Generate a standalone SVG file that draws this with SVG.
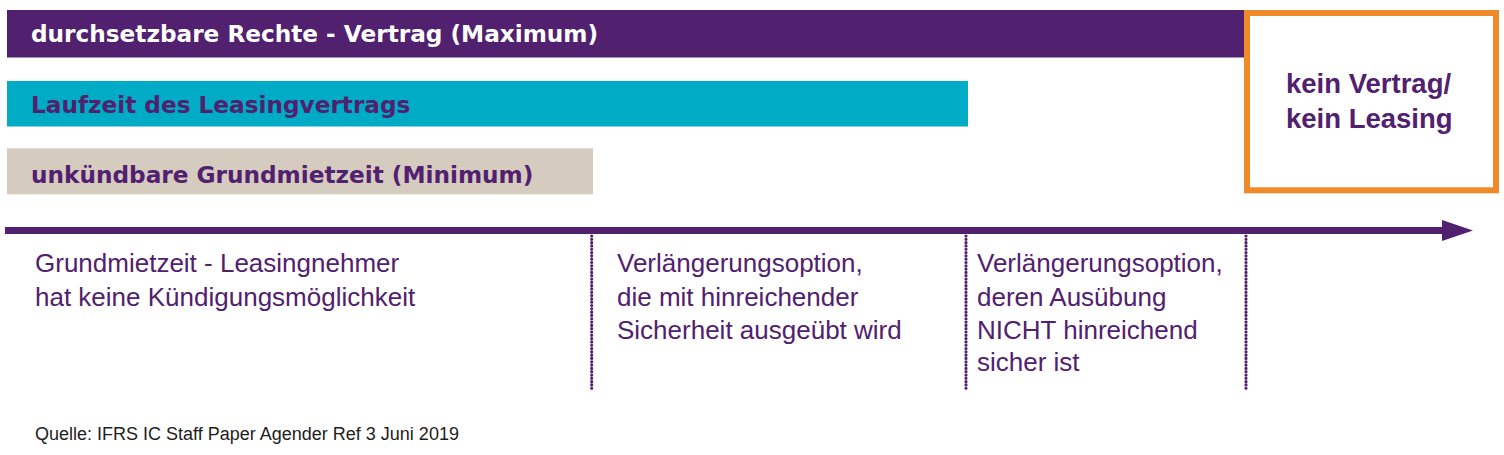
<svg xmlns="http://www.w3.org/2000/svg" width="1504" height="455" viewBox="0 0 1504 455">
  <style>
    .bartxt { font-family: "DejaVu Sans", "Liberation Sans", sans-serif; font-weight: bold; font-size: 23.2px; }
    .body { font-family: "Liberation Sans", Arial, sans-serif; font-size: 26px; fill: #51206f; }
    .box { font-family: "Liberation Sans", Arial, sans-serif; font-weight: bold; font-size: 27.5px; fill: #51206f; }
    .note { font-family: "Liberation Sans", Arial, sans-serif; font-size: 18px; fill: #1d1d1b; }
    .dots { stroke: #51206f; stroke-width: 3.2; stroke-linecap: round; stroke-dasharray: 0.01 3.3; fill: none; }
  </style>
  <rect width="1504" height="455" fill="#ffffff"/>

  <g id="bar-maximum">
    <rect x="7" y="10" width="1237" height="47.5" fill="#51206f"/>
    <text x="31" y="42" class="bartxt" fill="#ffffff">durchsetzbare Rechte - Vertrag (Maximum)</text>
  </g>
  <g id="bar-laufzeit">
    <rect x="7" y="81" width="961" height="45.5" fill="#00abc6"/>
    <text x="31" y="113" class="bartxt" fill="#51206f">Laufzeit des Leasingvertrags</text>
  </g>
  <g id="bar-minimum">
    <rect x="7" y="148.3" width="586" height="46" fill="#d6cbbf"/>
    <text x="31" y="183" class="bartxt" fill="#51206f">unkündbare Grundmietzeit (Minimum)</text>
  </g>
  <g id="box-kein-vertrag">
    <rect x="1247" y="13" width="249" height="177.3" fill="#ffffff" stroke="#ef8a2a" stroke-width="6"/>
    <text x="1286" y="93" class="box">kein Vertrag/</text>
    <text x="1286" y="127.5" class="box">kein Leasing</text>
  </g>

  <g id="connectors">
    <line x1="5" y1="230.5" x2="1446" y2="230.5" stroke="#51206f" stroke-width="7"/>
    <polygon points="1442,220 1473,230.5 1442,241" fill="#51206f"/>
    <line x1="591.7" y1="236" x2="591.7" y2="390" class="dots"/>
    <line x1="966" y1="236" x2="966" y2="390" class="dots"/>
    <line x1="1246" y1="236" x2="1246" y2="390" class="dots"/>
  </g>

  <g id="col-grundmietzeit">
    <text x="35" y="272" class="body">Grundmietzeit - Leasingnehmer</text>
    <text x="35" y="305.5" class="body">hat keine Kündigungsmöglichkeit</text>
  </g>
  <g id="col-option-sicher">
    <text x="617" y="272" class="body">Verlängerungsoption,</text>
    <text x="617" y="305.5" class="body">die mit hinreichender</text>
    <text x="617" y="338.5" class="body">Sicherheit ausgeübt wird</text>
  </g>
  <g id="col-option-nicht-sicher">
    <text x="977" y="272" class="body">Verlängerungsoption,</text>
    <text x="977" y="305.5" class="body">deren Ausübung</text>
    <text x="977" y="338.5" class="body">NICHT hinreichend</text>
    <text x="977" y="371" class="body">sicher ist</text>
  </g>

  <text x="35" y="439.5" class="note">Quelle: IFRS IC Staff Paper Agender Ref 3 Juni 2019</text>
</svg>
